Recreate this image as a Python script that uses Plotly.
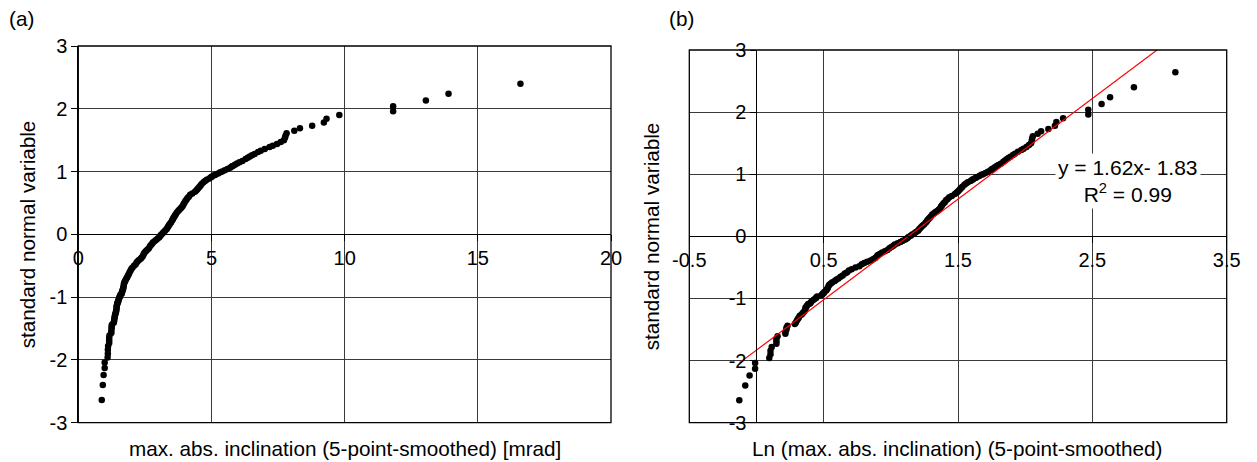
import numpy as np
import plotly.graph_objects as go

# Standard normal variable (plotting position) for each observation
z_std = [
    -2.64, -2.40, -2.24, -2.13, -2.04, -1.96, -1.90, -1.84, -1.78, -1.73,
    -1.69, -1.65, -1.61, -1.57, -1.54, -1.50, -1.47, -1.44, -1.41, -1.39,
    -1.36, -1.33, -1.31, -1.28, -1.26, -1.24, -1.22, -1.20, -1.17, -1.15,
    -1.13, -1.11, -1.09, -1.08, -1.06, -1.04, -1.02, -1.00, -0.99, -0.97,
    -0.95, -0.94, -0.92, -0.91, -0.89,
    -0.87, -0.85, -0.83, -0.80, -0.78, -0.76, -0.74, -0.72, -0.70, -0.68,
    -0.65, -0.63, -0.60, -0.58, -0.55, -0.53, -0.50, -0.48, -0.45, -0.43,
    -0.41, -0.39, -0.37, -0.35, -0.32, -0.30, -0.28, -0.26, -0.24, -0.22,
    -0.19, -0.17, -0.15, -0.13, -0.11, -0.09, -0.07, -0.05, -0.03, -0.01,
    0.01, 0.03, 0.05, 0.07, 0.09, 0.11, 0.13, 0.15, 0.17, 0.19,
    0.22, 0.24, 0.26, 0.28, 0.30, 0.32, 0.35, 0.37, 0.39, 0.41,
    0.43, 0.45, 0.48, 0.50, 0.53, 0.55, 0.58, 0.60, 0.63, 0.65,
    0.68, 0.70, 0.72, 0.74, 0.76, 0.78, 0.80, 0.83, 0.85, 0.87,
    0.89, 0.91, 0.92, 0.94, 0.95, 0.97, 0.99, 1.00, 1.02, 1.04,
    1.06, 1.08, 1.09, 1.11, 1.13, 1.15, 1.17, 1.20, 1.22, 1.24,
    1.26, 1.28, 1.31, 1.33, 1.36, 1.39, 1.41, 1.44, 1.47, 1.50,
    1.54, 1.57, 1.61, 1.65, 1.69, 1.73, 1.78, 1.84, 1.90, 1.96,
    2.04, 2.13, 2.24, 2.40, 2.64,
]

# Max. abs. inclination, 5-point-smoothed [mrad]
inclination_mrad = [
    0.88, 0.92, 0.95, 0.99, 0.99, 1.10, 1.11, 1.11, 1.12, 1.16,
    1.16, 1.16, 1.17, 1.24, 1.24, 1.25, 1.25, 1.26, 1.33, 1.34,
    1.35, 1.36, 1.37, 1.38, 1.40, 1.41, 1.42, 1.43, 1.44, 1.44,
    1.45, 1.46, 1.47, 1.49, 1.50, 1.51, 1.53, 1.55, 1.56, 1.57,
    1.62, 1.63, 1.64, 1.65, 1.66,
    1.68, 1.69, 1.70, 1.71, 1.72, 1.74, 1.76, 1.79, 1.81, 1.84,
    1.87, 1.90, 1.93, 1.96, 1.99, 2.03, 2.09, 2.15, 2.19, 2.23,
    2.28, 2.34, 2.38, 2.42, 2.45, 2.47, 2.51, 2.55, 2.60, 2.65,
    2.69, 2.73, 2.77, 2.80, 2.86, 2.92, 2.97, 3.03, 3.07, 3.10,
    3.15, 3.19, 3.24, 3.28, 3.33, 3.35, 3.38, 3.41, 3.44, 3.48,
    3.52, 3.55, 3.57, 3.60, 3.63, 3.66, 3.70, 3.75, 3.79, 3.84,
    3.88, 3.92, 3.95, 3.98, 4.02, 4.06, 4.10, 4.15, 4.20, 4.28,
    4.38, 4.43, 4.47, 4.51, 4.55, 4.59, 4.63, 4.70, 4.76, 4.82,
    4.92, 4.98, 5.02, 5.10, 5.15, 5.25, 5.33, 5.40, 5.50, 5.60,
    5.70, 5.76, 5.80, 5.88, 5.96, 6.05, 6.16, 6.28, 6.36, 6.44,
    6.52, 6.62, 6.75, 6.85, 7.00, 7.18, 7.30, 7.46, 7.60, 7.72,
    7.76, 7.78, 7.82, 8.11, 8.32, 8.78, 9.22, 9.32, 9.80, 11.82,
    11.82, 13.05, 13.90, 16.60, 22.60,
]

# Linear trend of the log-transformed data
fit_slope = 1.62
fit_intercept = -1.83
fit_r2 = 0.99

x_ticks_a = [0, 5, 10, 15, 20]
x_ticklabels_a = ["0", "5", "10", "15", "20"]
x_ticks_b = [-0.5, 0.5, 1.5, 2.5, 3.5]
x_ticklabels_b = ["-0.5", "0.5", "1.5", "2.5", "3.5"]
y_ticks = [-3, -2, -1, 0, 1, 2, 3]
y_ticklabels = ["-3", "-2", "-1", "0", "1", "2", "3"]

ln_incl = np.log(np.array(inclination_mrad))
fit_x = np.array([ln_incl.min(), ln_incl.max()])
fit_y = fit_slope * fit_x + fit_intercept

W, H = 1257, 462
FONT = "Liberation Sans, Arial, Helvetica, sans-serif"
GRID = "#3a3a3a"


def fx(px):
    return px / W


def fy(py):
    return (H - py) / H


# plot-area rectangles in pixels
A_L, A_R, A_T, A_B = 78.3, 611.0, 46.0, 422.7
B_L, B_R, B_T, B_B = 689.3, 1226.7, 50.0, 422.7

dom_ax = [fx(A_L), fx(A_R)]
dom_ay = [fy(A_B), fy(A_T)]
dom_bx = [fx(B_L), fx(B_R)]
dom_by = [fy(B_B), fy(B_T)]

# paper positions of the crossing axes (y = 0 and x = 0)
pos_ax = dom_ay[0] + 0.5 * (dom_ay[1] - dom_ay[0])
pos_bx = dom_by[0] + 0.5 * (dom_by[1] - dom_by[0])
pos_by = dom_bx[0] + (0 - (-0.5)) / 4.0 * (dom_bx[1] - dom_bx[0])

fig = go.Figure()

marker = dict(color="black", size=6.5, line=dict(width=0))

fig.add_trace(go.Scatter(
    x=inclination_mrad, y=z_std, mode="markers", marker=marker,
    xaxis="x", yaxis="y", showlegend=False, cliponaxis=True,
))
fig.add_trace(go.Scatter(
    x=ln_incl, y=z_std, mode="markers", marker=marker,
    xaxis="x2", yaxis="y2", showlegend=False, cliponaxis=True,
))
fig.add_trace(go.Scatter(
    x=fit_x, y=fit_y, mode="lines", line=dict(color="#ff0000", width=1.2),
    xaxis="x2", yaxis="y2", showlegend=False,
))

tickfont = dict(family=FONT, size=20, color="black")
title_font = dict(family=FONT, size=20.7, color="black")
common = dict(
    showgrid=True, gridcolor=GRID, gridwidth=1, zeroline=False,
    showline=True, linecolor="black", linewidth=1,
    ticks="outside", ticklen=6, tickcolor="black", tickwidth=1,
    tickfont=tickfont, fixedrange=True, tickmode="array",
    automargin=False,
)

fig.update_layout(
    template="none",
    width=W, height=H,
    margin=dict(l=0, r=0, t=0, b=0, pad=0, autoexpand=False),
    font=dict(family=FONT, color="black"),
    paper_bgcolor="white", plot_bgcolor="white",
    xaxis=dict(domain=dom_ax, range=[0, 20], tickvals=x_ticks_a,
               ticktext=x_ticklabels_a, anchor="free", position=pos_ax,
               **common),
    yaxis=dict(domain=dom_ay, range=[-3, 3], tickvals=y_ticks,
               ticktext=y_ticklabels, anchor="x", **common),
    xaxis2=dict(domain=dom_bx, range=[-0.5, 3.5], tickvals=x_ticks_b,
                ticktext=x_ticklabels_b, anchor="free", position=pos_bx,
                **common),
    yaxis2=dict(domain=dom_by, range=[-3, 3], tickvals=y_ticks,
                ticktext=y_ticklabels, anchor="free", position=pos_by,
                **common),
)

# plot-area frames
for xr, yr in (("x domain", "y domain"), ("x2 domain", "y2 domain")):
    fig.add_shape(type="rect", xref=xr, yref=yr, x0=0, x1=1, y0=0, y1=1,
                  line=dict(color="black", width=1.3), layer="above")

notes = [
    dict(text="max. abs. inclination (5-point-smoothed) [mrad]",
         x=fx((A_L + A_R) / 2), y=fy(448), xanchor="center", textangle=0),
    dict(text="Ln (max. abs. inclination) (5-point-smoothed)",
         x=fx((B_L + B_R) / 2), y=fy(448), xanchor="center", textangle=0),
    dict(text="standard normal variable", x=fx(27), y=fy((A_T + A_B) / 2),
         xanchor="center", textangle=-90),
    dict(text="standard normal variable", x=fx(651), y=fy((B_T + B_B) / 2),
         xanchor="center", textangle=-90),
    dict(text="(a)", x=fx(7), y=fy(19), xanchor="left", textangle=0),
    dict(text="(b)", x=fx(667), y=fy(19), xanchor="left", textangle=0),
]
for n in notes:
    fig.add_annotation(xref="paper", yref="paper", showarrow=False,
                       yanchor="middle", font=title_font, **n)

fig.add_annotation(
    xref="paper", yref="paper", x=fx(1128), y=fy(181),
    xanchor="center", yanchor="middle", showarrow=False, align="center",
    text=f"y = {fit_slope:.2f}x- {abs(fit_intercept):.2f}<br>R<sup>2</sup> = {fit_r2:.2f}",
    font=dict(family=FONT, size=21, color="black"),
    bgcolor="white", borderpad=2,
)

fig.write_html("out.html")
